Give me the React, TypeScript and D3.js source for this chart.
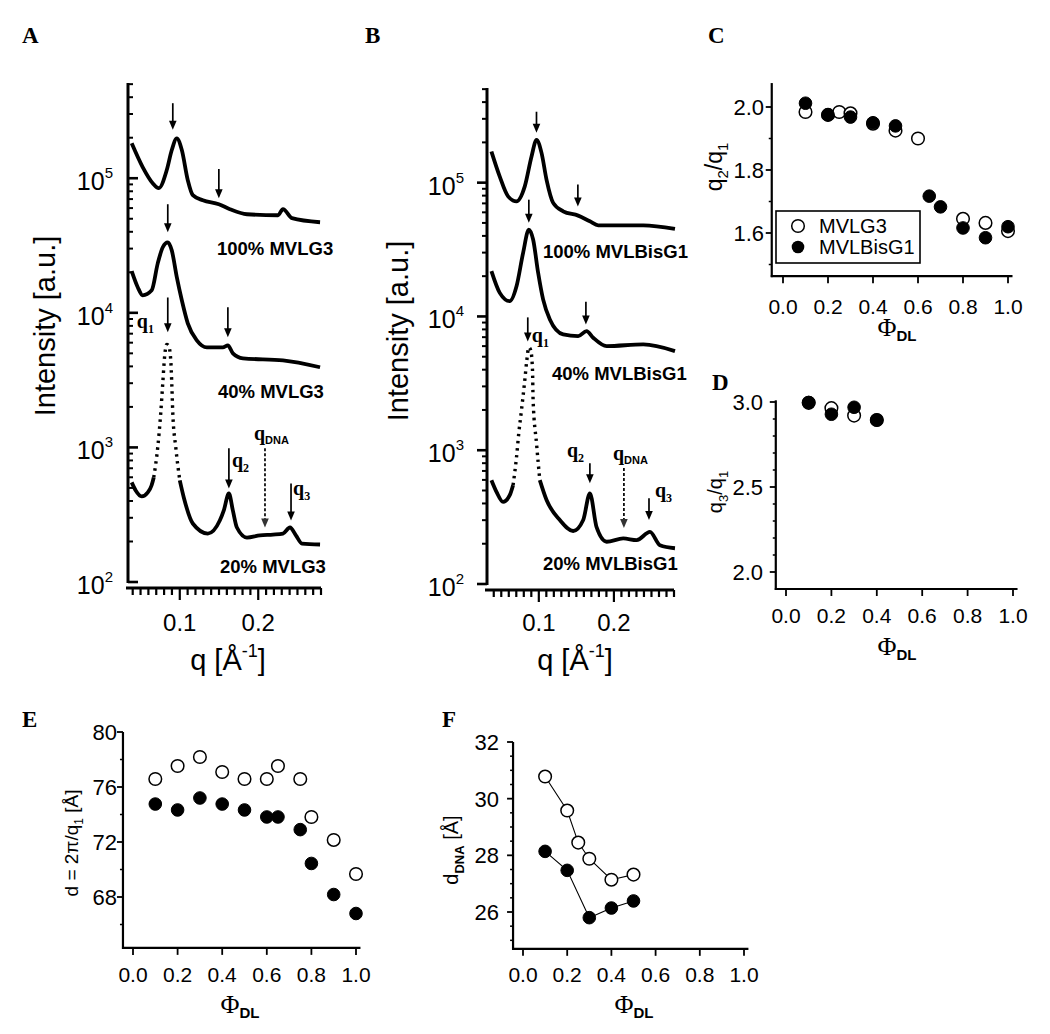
import React from "react";
import * as d3 from "d3";

const SANS = "Arial, 'Liberation Sans', Helvetica, sans-serif";
const SERIF = "'Times New Roman', 'Liberation Serif', Times, serif";

// ---------- Panel A: SAXS curves, MVLG3 ----------
const qA100 = [0.0387, 0.0527, 0.0655, 0.0732, 0.0834, 0.0898, 0.0962, 0.1026, 0.1102, 0.1166, 0.1294, 0.1498, 0.1639, 0.1856, 0.2252, 0.2315, 0.243, 0.2788];
const iA100 = [182000, 121000, 91800, 84300, 115000, 162000, 198000, 162000, 96700, 74800, 68600, 64100, 58900, 54000, 53100, 58900, 50500, 47100];
const qA40 = [0.0387, 0.0464, 0.0527, 0.0642, 0.0719, 0.0783, 0.0847, 0.0898, 0.0962, 0.1026, 0.1102, 0.1217, 0.1345, 0.1549, 0.1613, 0.1677, 0.1805, 0.2315, 0.2788];
const iA40 = [20400, 15500, 13500, 14700, 23300, 30700, 33400, 29100, 18400, 12400, 8360, 6250, 5540, 5540, 5730, 5000, 4590, 4440, 3940];
const qA20 = [0.0387, 0.0438, 0.0515, 0.059, 0.064, 0.0668, 0.0719, 0.0757, 0.0783, 0.0808, 0.0834, 0.086, 0.0885, 0.0898, 0.0911, 0.0949, 0.1, 0.1051, 0.1166, 0.1358, 0.151, 0.156, 0.1626, 0.1677, 0.1728, 0.1856, 0.2022, 0.2188, 0.2315, 0.2405, 0.248, 0.2558, 0.2788];
const iA20 = [550, 479, 433, 462, 521, 598, 1000, 1790, 2990, 4830, 5830, 5640, 4440, 2990, 1790, 1000, 569, 425, 272, 229, 286, 339, 455, 339, 254, 214, 222, 225, 229, 254, 222, 193, 190];
const sparseA20: [number, number] = [0.0668, 0.1];

const arrowAq = [0.0911, 0.1498, 0.0847, 0.1613, 0.0847, 0.1626, 0.2086, 0.2418];
const arrowAtop = [361000, 117000, 64100, 11000, 13000, 984, 984, 540];
const arrowAtip = [229000, 71000, 39700, 6570, 7160, 495, 254, 286];
const arrowAdash = [false, false, false, false, false, false, true, false];
const arrowAlabel = ["", "", "", "", "1", "2", "DNA", "3"];

// ---------- Panel B: SAXS curves, MVLBisG1 ----------
const qB100 = [0.0369, 0.048, 0.0591, 0.0703, 0.0813, 0.0903, 0.0969, 0.1036, 0.1103, 0.1191, 0.1324, 0.1524, 0.168, 0.1791, 0.2391, 0.2813];
const iB100 = [171000, 111000, 79000, 72500, 93800, 157000, 209000, 167000, 105000, 70600, 61100, 56700, 51400, 48000, 48000, 45100];
const qB40 = [0.0369, 0.048, 0.0613, 0.0703, 0.0791, 0.0867, 0.0924, 0.0991, 0.1057, 0.1147, 0.1324, 0.1524, 0.1636, 0.1724, 0.1903, 0.2391, 0.2813];
const iB40 = [21800, 15000, 13000, 16800, 29900, 44600, 37600, 21200, 13400, 9500, 7350, 7130, 7770, 6930, 6000, 6180, 5510];
const qB20 = [0.0369, 0.0436, 0.0524, 0.0613, 0.0657, 0.0703, 0.0733, 0.0769, 0.0813, 0.084, 0.0867, 0.0893, 0.0916, 0.0924, 0.0969, 0.1013, 0.1103, 0.128, 0.1457, 0.1591, 0.168, 0.1769, 0.1903, 0.2124, 0.2303, 0.248, 0.2613, 0.2813];
const iB20 = [597, 489, 411, 461, 548, 887, 1340, 1990, 3330, 4700, 5880, 5580, 3950, 2360, 1130, 597, 424, 301, 249, 301, 475, 266, 207, 219, 213, 245, 195, 185];
const sparseB20: [number, number] = [0.0657, 0.1013];

const arrowBq = [0.0969, 0.152, 0.0867, 0.1627, 0.0853, 0.168, 0.2133, 0.2467];
const arrowBtop = [339000, 96700, 74600, 12900, 9840, 800, 735, 438];
const arrowBtip = [236000, 66200, 50200, 8710, 6500, 567, 262, 301];
const arrowBdash = [false, false, false, false, false, false, true, false];
const arrowBlabel = ["", "", "", "", "1", "2", "DNA", "3"];

const logTicksQ = ["0.1", "0.2"];

// ---------- Panel C: q2/q1 ----------
const phiC_open = [0.1, 0.2, 0.25, 0.3, 0.4, 0.5, 0.6, 0.8, 0.9, 1.0];
const ratioC_open = [1.984, 1.975, 1.984, 1.98, 1.947, 1.925, 1.9, 1.645, 1.632, 1.606];
const phiC_fill = [0.1, 0.2, 0.3, 0.4, 0.5, 0.65, 0.7, 0.8, 0.9, 1.0];
const ratioC_fill = [2.012, 1.975, 1.968, 1.95, 1.94, 1.717, 1.683, 1.616, 1.585, 1.62];

// ---------- Panel D: q3/q1 ----------
const phiD_open = [0.1, 0.2, 0.3, 0.4];
const ratioD_open = [2.995, 2.964, 2.92, 2.894];
const phiD_fill = [0.1, 0.2, 0.3, 0.4];
const ratioD_fill = [2.997, 2.928, 2.969, 2.894];

// ---------- Panel E: d = 2pi/q1 ----------
const phiE = [0.1, 0.2, 0.3, 0.4, 0.5, 0.6, 0.65, 0.75, 0.8, 0.9, 1.0];
const dE_open = [76.58, 77.53, 78.18, 77.09, 76.58, 76.58, 77.53, 76.58, 73.82, 72.15, 69.67];
const dE_fill = [74.76, 74.33, 75.2, 74.76, 74.33, 73.82, 73.82, 72.9, 70.44, 68.18, 66.8];

// ---------- Panel F: d_DNA ----------
const phiF_open = [0.1, 0.2, 0.25, 0.3, 0.4, 0.5];
const dF_open = [30.78, 29.58, 28.45, 27.88, 27.14, 27.32];
const phiF_fill = [0.1, 0.2, 0.3, 0.4, 0.5];
const dF_fill = [28.14, 27.47, 25.8, 26.14, 26.39];

const phiTicks = [0, 0.2, 0.4, 0.6, 0.8, 1.0];

type Curve = { q: number[]; i: number[]; sparse?: [number, number] };
type CurveLabel = { text: string; x: number; y: number };
type LabelOff = { dx: number; dy: number };

type LogSpec = {
  qDom: [number, number];
  xPx: [number, number];
  iDom: [number, number];
  yPx: [number, number];
  xAxisY: number;
  tickOut: boolean;
  yLabelEnd: number;
  xLabelY: number;
  curves: Curve[];
  arrows: { q: number[]; top: number[]; tip: number[]; dash: boolean[]; label: string[] };
  labelOff: LabelOff[];
  curveLabels: CurveLabel[];
  yTitle: { x: number; y: number };
  xTitle: { x: number; y: number };
  letter: { t: string; x: number; y: number };
};

function Arrow({ x, y1, y2, dash }: { x: number; y1: number; y2: number; dash: boolean }) {
  const h = 9;
  const w = 3.8;
  return (
    <g>
      <line x1={x} x2={x} y1={y1} y2={y2 - h + 1} stroke="#000" strokeWidth={1.7} strokeDasharray={dash ? "3 2" : undefined} />
      <path d={`M${x - w},${y2 - h}L${x + w},${y2 - h}L${x},${y2}Z`} fill={dash ? "#333" : "#000"} />
    </g>
  );
}

function QLabel({ x, y, sub }: { x: number; y: number; sub: string }) {
  const isDna = sub === "DNA";
  return (
    <text x={x} y={y} fontFamily={SERIF} fontWeight="bold" fontSize={20}>
      q
      <tspan dy={isDna ? 4 : 5} fontSize={isDna ? 11 : 12} fontFamily={isDna ? SANS : SERIF}>
        {sub}
      </tspan>
    </text>
  );
}

function LogPanel({ s }: { s: LogSpec }) {
  const x = d3.scaleLinear().domain(s.qDom).range(s.xPx);
  const y = d3.scaleLog().domain(s.iDom).range(s.yPx);
  const line = d3
    .line<number[]>()
    .x((d) => x(d[0]))
    .y((d) => y(d[1]))
    .curve(d3.curveMonotoneX);
  const yT = y.ticks();
  const isMajor = (t: number) => Math.abs(Math.log10(t) - Math.round(Math.log10(t))) < 1e-9;
  const xT = x.ticks(25);
  const dir = s.tickOut ? -1 : 1;
  const axX = s.xPx[0];

  return (
    <g>
      <text x={s.letter.x} y={s.letter.y} fontFamily={SERIF} fontWeight="bold" fontSize={23}>
        {s.letter.t}
      </text>
      {/* y axis */}
      <line x1={axX} x2={axX} y1={s.yPx[1]} y2={s.yPx[0] + 1} stroke="#000" strokeWidth={3} />
      {yT.map((t) => {
        const M = isMajor(t);
        return (
          <line key={t} x1={axX} x2={axX + dir * (M ? 10 : 5)} y1={y(t)} y2={y(t)} stroke="#000" strokeWidth={M ? 2.6 : 2} />
        );
      })}
      {yT.filter(isMajor).map((t) => (
        <text key={"l" + t} x={s.yLabelEnd} y={y(t) + 12} textAnchor="end" fontSize={25}>
          10
          <tspan dy={-12} fontSize={15}>
            {Math.round(Math.log10(t))}
          </tspan>
        </text>
      ))}
      <text transform={`translate(${s.yTitle.x},${s.yTitle.y}) rotate(-90)`} textAnchor="middle" fontSize={29}>
        Intensity [a.u.]
      </text>
      {/* x axis */}
      <line x1={axX - 2} x2={s.xPx[1]} y1={s.xAxisY} y2={s.xAxisY} stroke="#000" strokeWidth={3} />
      {xT.map((t) => {
        const M = Math.abs(t * 10 - Math.round(t * 10)) < 1e-9;
        return <line key={t} x1={x(t)} x2={x(t)} y1={s.xAxisY} y2={s.xAxisY + (M ? 12 : 7)} stroke="#000" strokeWidth={2.2} />;
      })}
      {logTicksQ.map((l) => (
        <text key={l} x={x(+l)} y={s.xLabelY} textAnchor="middle" fontSize={24}>
          {l}
        </text>
      ))}
      <text x={s.xTitle.x} y={s.xTitle.y} textAnchor="middle" fontSize={29}>
        q [Å
        <tspan dy={-13} fontSize={18}>
          -1
        </tspan>
        <tspan dy={13}>]</tspan>
      </text>
      {/* curves */}
      {s.curves.map((c, k) => {
        const pts = c.q.map((q, j) => [q, c.i[j]]);
        if (!c.sparse) {
          return <path key={k} d={line(pts) || ""} fill="none" stroke="#000" strokeWidth={3.8} strokeLinejoin="round" />;
        }
        const [a, b] = c.sparse;
        const left = pts.filter((p) => p[0] <= a);
        const mid = pts.filter((p) => p[0] >= a && p[0] <= b);
        const right = pts.filter((p) => p[0] >= b);
        return (
          <g key={k}>
            <path d={line(left) || ""} fill="none" stroke="#000" strokeWidth={3.8} />
            <path d={line(mid) || ""} fill="none" stroke="#000" strokeWidth={3.4} strokeDasharray="2.5 4.5" />
            <path d={line(right) || ""} fill="none" stroke="#000" strokeWidth={3.8} />
          </g>
        );
      })}
      {/* arrows */}
      {s.arrows.q.map((q, k) => (
        <Arrow key={k} x={x(q)} y1={y(s.arrows.top[k])} y2={y(s.arrows.tip[k])} dash={s.arrows.dash[k]} />
      ))}
      {s.arrows.q.map((q, k) =>
        s.arrows.label[k] ? (
          <QLabel key={"q" + k} x={x(q) + s.labelOff[k].dx} y={y(s.arrows.top[k]) + s.labelOff[k].dy} sub={s.arrows.label[k]} />
        ) : null
      )}
      {s.curveLabels.map((l) => (
        <text key={l.text} x={l.x} y={l.y} fontSize={18.5} fontWeight="bold">
          {l.text}
        </text>
      ))}
    </g>
  );
}

const noOff = { dx: 0, dy: 0 };

const panelA: LogSpec = {
  qDom: [0.034, 0.28],
  xPx: [128, 321],
  iDom: [100, 510000],
  yPx: [582, 83],
  xAxisY: 588,
  tickOut: false,
  yLabelEnd: 113,
  xLabelY: 631,
  curves: [
    { q: qA100, i: iA100 },
    { q: qA40, i: iA40 },
    { q: qA20, i: iA20, sparse: sparseA20 },
  ],
  arrows: { q: arrowAq, top: arrowAtop, tip: arrowAtip, dash: arrowAdash, label: arrowAlabel },
  labelOff: [noOff, noOff, noOff, noOff, { dx: -31, dy: 31 }, { dx: 3, dy: 19 }, { dx: -11, dy: -8 }, { dx: 2, dy: 12 }],
  curveLabels: [
    { text: "100% MVLG3", x: 217, y: 255 },
    { text: "40% MVLG3", x: 218, y: 398 },
    { text: "20% MVLG3", x: 220, y: 573 },
  ],
  yTitle: { x: 55, y: 326 },
  xTitle: { x: 228, y: 670 },
  letter: { t: "A", x: 22, y: 43 },
};

const panelB: LogSpec = {
  qDom: [0.031, 0.28],
  xPx: [487, 674],
  iDom: [100, 510000],
  yPx: [584, 88],
  xAxisY: 590,
  tickOut: true,
  yLabelEnd: 464,
  xLabelY: 631,
  curves: [
    { q: qB100, i: iB100 },
    { q: qB40, i: iB40 },
    { q: qB20, i: iB20, sparse: sparseB20 },
  ],
  arrows: { q: arrowBq, top: arrowBtop, tip: arrowBtip, dash: arrowBdash, label: arrowBlabel },
  labelOff: [noOff, noOff, noOff, noOff, { dx: 4, dy: 25 }, { dx: -23, dy: -6 }, { dx: -11, dy: -8 }, { dx: 6, dy: -1 }],
  curveLabels: [
    { text: "100% MVLBisG1", x: 543, y: 258 },
    { text: "40% MVLBisG1", x: 552, y: 380 },
    { text: "20% MVLBisG1", x: 543, y: 570 },
  ],
  yTitle: { x: 408, y: 331 },
  xTitle: { x: 575, y: 670 },
  letter: { t: "B", x: 365, y: 43 },
};

type ScatterSpec = {
  xRef: [number, number];
  xPx: [number, number];
  xExt: [number, number];
  yRef: [number, number];
  yPx: [number, number];
  yExt: [number, number];
  yMajor: number[];
  yMinor: number[];
  yFmt: (v: number) => string;
  yLabelEnd: number;
  xLabelY: number;
  open: { x: number[]; y: number[] };
  fill: { x: number[]; y: number[] };
  connect: boolean;
  yTitle: { x: number; y: number; size: number; kind: string };
  xTitle: { x: number; y: number };
  letter: { t: string; x: number; y: number };
  legend?: boolean;
};

function YTitle({ kind, size }: { kind: string; size: number }) {
  const sub = Math.round(size * 0.65);
  const sh = Math.round(size * 0.28);
  if (kind === "q2" || kind === "q3") {
    return (
      <>
        q<tspan dy={sh} fontSize={sub}>{kind === "q2" ? "2" : "3"}</tspan>
        <tspan dy={-sh}>/q</tspan>
        <tspan dy={sh} fontSize={sub}>1</tspan>
      </>
    );
  }
  if (kind === "d") {
    return (
      <>
        d = 2π/q<tspan dy={sh} fontSize={sub}>1</tspan>
        <tspan dy={-sh}> [Å]</tspan>
      </>
    );
  }
  return (
    <>
      d<tspan dy={sh} fontSize={sub} fontWeight="bold">DNA</tspan>
      <tspan dy={-sh}> [Å]</tspan>
    </>
  );
}

function ScatterPanel({ s }: { s: ScatterSpec }) {
  const x = d3.scaleLinear().domain(s.xRef).range(s.xPx);
  const y = d3.scaleLinear().domain(s.yRef).range(s.yPx);
  const axX = x(s.xExt[0]);
  const axY = y(s.yExt[0]);
  const conn = (xs: number[], ys: number[]) =>
    d3
      .line<number>()
      .x((_, j) => x(xs[j]))
      .y((_, j) => y(ys[j]))(xs) || "";
  const r = 6.3;
  return (
    <g>
      <text x={s.letter.x} y={s.letter.y} fontFamily={SERIF} fontWeight="bold" fontSize={23}>
        {s.letter.t}
      </text>
      <line x1={axX} x2={axX} y1={y(s.yExt[1])} y2={axY + 1} stroke="#000" strokeWidth={2.2} />
      <line x1={axX - 1} x2={x(s.xExt[1])} y1={axY} y2={axY} stroke="#000" strokeWidth={2.2} />
      {s.yMajor.map((t) => (
        <g key={t}>
          <line x1={axX - 6} x2={axX} y1={y(t)} y2={y(t)} stroke="#000" strokeWidth={1.8} />
          <text x={s.yLabelEnd} y={y(t) + 8} textAnchor="end" fontSize={22}>
            {s.yFmt(t)}
          </text>
        </g>
      ))}
      {s.yMinor.map((t) => (
        <line key={"m" + t} x1={axX - 3} x2={axX} y1={y(t)} y2={y(t)} stroke="#000" strokeWidth={1.5} />
      ))}
      {phiTicks.map((t) => (
        <g key={"x" + t}>
          <line x1={x(t)} x2={x(t)} y1={axY} y2={axY + 7} stroke="#000" strokeWidth={1.8} />
          <text x={x(t)} y={s.xLabelY} textAnchor="middle" fontSize={21}>
            {d3.format(".1f")(t)}
          </text>
        </g>
      ))}
      <text transform={`translate(${s.yTitle.x},${s.yTitle.y}) rotate(-90)`} textAnchor="middle" fontSize={s.yTitle.size}>
        <YTitle kind={s.yTitle.kind} size={s.yTitle.size} />
      </text>
      <text x={s.xTitle.x} y={s.xTitle.y} textAnchor="middle">
        <tspan fontFamily={SERIF} fontSize={26}>Φ</tspan>
        <tspan dy={5} fontSize={15} fontWeight="bold">DL</tspan>
      </text>
      {s.connect && (
        <g>
          <path d={conn(s.open.x, s.open.y)} fill="none" stroke="#000" strokeWidth={1.1} />
          <path d={conn(s.fill.x, s.fill.y)} fill="none" stroke="#000" strokeWidth={1.1} />
        </g>
      )}
      {s.open.x.map((v, j) => (
        <circle key={"o" + j} cx={x(v)} cy={y(s.open.y[j])} r={r} fill="#fff" stroke="#000" strokeWidth={1.5} />
      ))}
      {s.fill.x.map((v, j) => (
        <circle key={"f" + j} cx={x(v)} cy={y(s.fill.y[j])} r={r} fill="#000" stroke="#000" strokeWidth={1} />
      ))}
      {s.legend && (
        <g>
          <rect x={776} y={211} width={144} height={52} fill="#fff" stroke="#000" strokeWidth={1.6} />
          <circle cx={798} cy={226} r={r} fill="#fff" stroke="#000" strokeWidth={1.5} />
          <text x={819} y={233} fontSize={20}>MVLG3</text>
          <circle cx={798} cy={247} r={r} fill="#000" />
          <text x={819} y={254} fontSize={20}>MVLBisG1</text>
        </g>
      )}
    </g>
  );
}

const fmt1 = d3.format(".1f");
const fmt0 = d3.format("d");

const panelC: ScatterSpec = {
  xRef: [0, 1],
  xPx: [783, 1008],
  xExt: [-0.05, 1.02],
  yRef: [2.0, 1.6],
  yPx: [107, 233],
  yExt: [1.463, 2.076],
  yMajor: [1.6, 1.8, 2.0],
  yMinor: [1.5, 1.7, 1.9],
  yFmt: fmt1,
  yLabelEnd: 764,
  xLabelY: 314,
  open: { x: phiC_open, y: ratioC_open },
  fill: { x: phiC_fill, y: ratioC_fill },
  connect: false,
  yTitle: { x: 722, y: 167, size: 23, kind: "q2" },
  xTitle: { x: 897, y: 336 },
  letter: { t: "C", x: 708, y: 43 },
  legend: true,
};

const panelD: ScatterSpec = {
  xRef: [0, 1],
  xPx: [786, 1013],
  xExt: [-0.045, 1.02],
  yRef: [3.0, 2.0],
  yPx: [402, 572],
  yExt: [1.9, 3.01],
  yMajor: [2.0, 2.5, 3.0],
  yMinor: [2.1, 2.2, 2.3, 2.4, 2.6, 2.7, 2.8, 2.9],
  yFmt: fmt1,
  yLabelEnd: 763,
  xLabelY: 623,
  open: { x: phiD_open, y: ratioD_open },
  fill: { x: phiD_fill, y: ratioD_fill },
  connect: false,
  yTitle: { x: 722, y: 492, size: 20, kind: "q3" },
  xTitle: { x: 897, y: 655 },
  letter: { t: "D", x: 712, y: 390 },
};

const panelE: ScatterSpec = {
  xRef: [0, 1],
  xPx: [133, 356],
  xExt: [-0.045, 1.02],
  yRef: [80, 68],
  yPx: [732, 897],
  yExt: [64.3, 80],
  yMajor: [68, 72, 76, 80],
  yMinor: [66, 70, 74, 78],
  yFmt: fmt0,
  yLabelEnd: 117,
  xLabelY: 982,
  open: { x: phiE, y: dE_open },
  fill: { x: phiE, y: dE_fill },
  connect: false,
  yTitle: { x: 78, y: 843, size: 19, kind: "d" },
  xTitle: { x: 240, y: 1013 },
  letter: { t: "E", x: 22, y: 727 },
};

const panelF: ScatterSpec = {
  xRef: [0, 1],
  xPx: [523, 744],
  xExt: [-0.045, 1.02],
  yRef: [32, 26],
  yPx: [742, 912],
  yExt: [24.7, 32],
  yMajor: [26, 28, 30, 32],
  yMinor: [25, 25.5, 26.5, 27, 27.5, 28.5, 29, 29.5, 30.5, 31, 31.5],
  yFmt: fmt0,
  yLabelEnd: 499,
  xLabelY: 982,
  open: { x: phiF_open, y: dF_open },
  fill: { x: phiF_fill, y: dF_fill },
  connect: true,
  yTitle: { x: 458, y: 850, size: 20, kind: "dna" },
  xTitle: { x: 634, y: 1013 },
  letter: { t: "F", x: 442, y: 727 },
};

export default function App() {
  return (
    <svg
      width={1050}
      height={1034}
      style={{ position: "absolute", left: 0, top: 0, display: "block" }}
      fontFamily={SANS}
    >
      <rect width={1050} height={1034} fill="#fff" />
      <LogPanel s={panelA} />
      <LogPanel s={panelB} />
      <ScatterPanel s={panelC} />
      <ScatterPanel s={panelD} />
      <ScatterPanel s={panelE} />
      <ScatterPanel s={panelF} />
    </svg>
  );
}
